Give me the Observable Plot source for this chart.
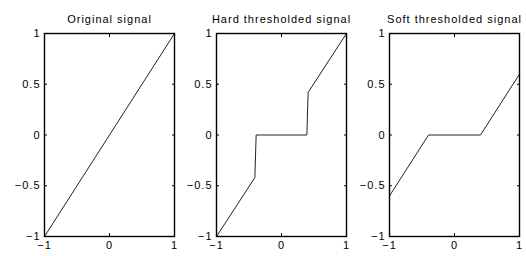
<!DOCTYPE html>
<html>
<head>
<meta charset="utf-8">
<script src="https://cdn.jsdelivr.net/npm/d3@7"></script>
<script src="https://cdn.jsdelivr.net/npm/@observablehq/plot@0.6"></script>
<style>
  html, body { margin: 0; padding: 0; background: #fff; }
  #wrap { position: relative; width: 526px; height: 256px; overflow: hidden; }
  #wrap > div { position: absolute; top: 0; }
  svg { font-family: "Liberation Sans", Arial, sans-serif; overflow: visible; }
</style>
</head>
<body>
<div id="wrap"></div>
<script>
// Panel titles
const titles = ["Original signal", "Hard thresholded signal", "Soft thresholded signal"];

// Original signal
const origX = [-1, 1];
const origY = [-1, 1];

// Hard thresholded signal (threshold ~0.4)
const hardX = [-1, -0.41, -0.39, 0.39, 0.41, 1];
const hardY = [-1, -0.42, 0, 0, 0.42, 1];

// Soft thresholded signal
const softX = [-1, -0.4, 0.4, 1];
const softY = [-0.6, 0, 0, 0.6];

// Tick labels
const xTicks = [-1, 0, 1];
const yTicks = [-1, -0.5, 0, 0.5, 1];

const series = [[origX, origY], [hardX, hardY], [softX, softY]];
const offsets = [0, 172, 345];

const fmt = d => (d === -1 ? "\u22121" : d === -0.5 ? "\u22120.5" : String(d));

series.forEach(([xs, ys], i) => {
  const data = xs.map((x, j) => ({x, y: ys[j]}));
  const chart = Plot.plot({
    width: 180,
    height: 256,
    marginLeft: 44,
    marginRight: 6,
    marginTop: 33,
    marginBottom: 20,
    style: {fontSize: "11px", fontFamily: "Liberation Sans, Arial, sans-serif", color: "#000", background: "transparent", letterSpacing: "1px", overflow: "visible"},
    x: {domain: [-1, 1]},
    y: {domain: [-1, 1]},
    marks: [
      Plot.axisX(xTicks, {anchor: "bottom", tickSize: -3, tickPadding: 8, tickFormat: fmt, label: null, fontSize: 11}),
      Plot.axisX(xTicks, {anchor: "top", tickSize: -3, tickFormat: () => "", label: null}),
      Plot.axisY(yTicks, {anchor: "left", tickSize: -3, tickPadding: 7, tickFormat: fmt, label: null, fontSize: 11}),
      Plot.axisY(yTicks, {anchor: "right", tickSize: -3, tickFormat: () => "", label: null}),
      Plot.line(data, {x: "x", y: "y", stroke: "#222", strokeWidth: 1}),
      Plot.frame({stroke: "#000", strokeWidth: 1.4}),
      Plot.text([titles[i]], {text: d => d, frameAnchor: "top", dy: -18, fontSize: 11})
    ]
  });
  const div = document.createElement("div");
  div.style.left = offsets[i] + "px";
  div.appendChild(chart);
  document.getElementById("wrap").appendChild(div);
});
</script>
</body>
</html>
